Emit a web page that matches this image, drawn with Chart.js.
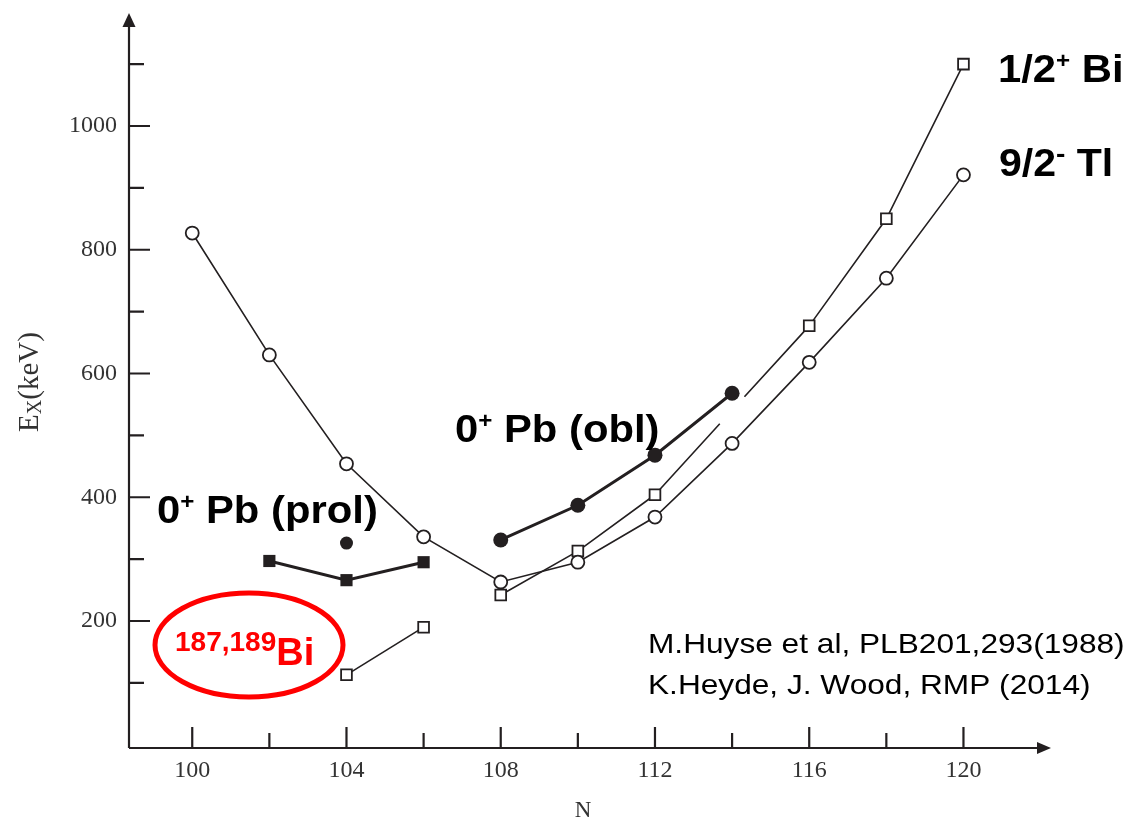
<!DOCTYPE html>
<html>
<head>
<meta charset="utf-8">
<script src="https://cdn.jsdelivr.net/npm/chart.js@4.4.1/dist/chart.umd.min.js"></script>
<style>
    html, body { margin: 0; padding: 0; background: #fff; }
    #wrap { width: 1131px; height: 822px; position: relative; }
</style>
</head>
<body>
<div id="wrap"><canvas id="levels"></canvas></div>
<script>
// Data (N, excitation energy in keV)
const nTl = [100, 102, 104, 106, 108, 110, 112, 114, 116, 118, 120];
const eTl = [827, 630, 454, 336, 263, 295, 368, 487, 618, 754, 921];

const nBi = [108, 110, 112, 116, 118, 120];
const eBi = [242, 313, 404, 677, 850, 1100];

const nBiLight = [104, 106];
const eBiLight = [113, 190];

const nObl = [108, 110, 112, 114];
const eObl = [331, 387, 468, 568];

const nProl = [102, 104, 106];
const eProl = [297, 266, 295];

const nProlExtra = [104];
const eProlExtra = [326];

// tick positions and which of them carry a label
const xTicks = [100, 102, 104, 106, 108, 110, 112, 114, 116, 118, 120];
const xLabelTicks = [100, 104, 108, 112, 116, 120];
const yTicks = [100, 200, 300, 400, 500, 600, 700, 800, 900, 1000, 1100];
const yLabelTicks = [200, 400, 600, 800, 1000];

const INK = '#231f20';

function toPoints(xs, ys) {
    return xs.map((x, i) => ({ x: x, y: ys[i] }));
}

// Draw a run of text pieces (for superscripts), optionally stretched horizontally
function drawRuns(ctx, x, y, runs, sx) {
    ctx.save();
    ctx.translate(x, y);
    ctx.scale(sx || 1, 1);
    ctx.textBaseline = 'alphabetic';
    ctx.textAlign = 'left';
    let cx = 0;
    runs.forEach(r => {
        ctx.font = r.font;
        ctx.fillStyle = r.color || '#000';
        ctx.fillText(r.text, cx, r.dy || 0);
        cx += ctx.measureText(r.text).width;
    });
    ctx.restore();
}

// Axes with arrows and inward tick marks
const axesPlugin = {
    id: 'axesPlugin',
    beforeDatasetsDraw(chart) {
        const ctx = chart.ctx;
        const area = chart.chartArea;
        const xs = chart.scales.x;
        const ys = chart.scales.y;
        ctx.save();
        ctx.strokeStyle = INK;
        ctx.fillStyle = INK;
        ctx.lineWidth = 2.2;

        ctx.beginPath();
        ctx.moveTo(area.left, area.bottom);
        ctx.lineTo(area.left, area.top + 10);
        ctx.moveTo(area.left, area.bottom);
        ctx.lineTo(area.right - 10, area.bottom);
        ctx.stroke();

        // arrow heads
        ctx.beginPath();
        ctx.moveTo(area.left, area.top);
        ctx.lineTo(area.left - 6.5, area.top + 14);
        ctx.lineTo(area.left + 6.5, area.top + 14);
        ctx.closePath();
        ctx.fill();
        ctx.beginPath();
        ctx.moveTo(area.right, area.bottom);
        ctx.lineTo(area.right - 14, area.bottom - 6);
        ctx.lineTo(area.right - 14, area.bottom + 6);
        ctx.closePath();
        ctx.fill();

        ctx.beginPath();
        xs.ticks.forEach(t => {
            const px = xs.getPixelForValue(t.value);
            const len = xLabelTicks.includes(t.value) ? 21 : 15;
            ctx.moveTo(px, area.bottom);
            ctx.lineTo(px, area.bottom - len);
        });
        ys.ticks.forEach(t => {
            const py = ys.getPixelForValue(t.value);
            const len = yLabelTicks.includes(t.value) ? 21 : 15;
            ctx.moveTo(area.left, py);
            ctx.lineTo(area.left + len, py);
        });
        ctx.stroke();
        ctx.restore();
    }
};

// Axis titles and the text annotations
const labelsPlugin = {
    id: 'labelsPlugin',
    afterDraw(chart) {
        const ctx = chart.ctx;
        const serif = '"Liberation Serif", "Times New Roman", serif';
        const sans = '"Liberation Sans", Arial, sans-serif';

        // y title, rotated, with subscript
        ctx.save();
        ctx.translate(30, 382);
        ctx.rotate(-Math.PI / 2);
        ctx.fillStyle = '#333';
        ctx.textBaseline = 'middle';
        const parts = [
            { text: 'E', font: '29px ' + serif, dy: 0 },
            { text: 'X', font: '20px ' + serif, dy: 6 },
            { text: '(keV)', font: '29px ' + serif, dy: 0 }
        ];
        let total = 0;
        parts.forEach(p => { ctx.font = p.font; total += ctx.measureText(p.text).width; });
        let cx = -total / 2;
        parts.forEach(p => {
            ctx.font = p.font;
            ctx.fillText(p.text, cx, p.dy);
            cx += ctx.measureText(p.text).width;
        });
        ctx.restore();

        // x title
        ctx.save();
        ctx.fillStyle = '#333';
        ctx.font = '23px ' + serif;
        ctx.textAlign = 'center';
        ctx.textBaseline = 'middle';
        ctx.fillText('N', 583, 811);
        ctx.restore();

        const big = 'bold 38px ' + sans;
        const sup = 'bold 22px ' + sans;
        drawRuns(ctx, 998, 82, [
            { text: '1/2', font: big },
            { text: '+', font: sup, dy: -14 },
            { text: ' Bi', font: big }
        ], 1.1);
        drawRuns(ctx, 999, 176, [
            { text: '9/2', font: big },
            { text: '-', font: 'bold 26px ' + sans, dy: -14 },
            { text: ' Tl', font: big }
        ], 1.08);
        drawRuns(ctx, 455, 442, [
            { text: '0', font: big },
            { text: '+', font: sup, dy: -14 },
            { text: ' Pb (obl)', font: big }
        ], 1.1);
        drawRuns(ctx, 157, 523, [
            { text: '0', font: big },
            { text: '+', font: sup, dy: -14 },
            { text: ' Pb (prol)', font: big }
        ], 1.1);

        // red highlight
        ctx.save();
        ctx.strokeStyle = '#ff0000';
        ctx.lineWidth = 5;
        ctx.beginPath();
        ctx.ellipse(249, 645, 94, 52, 0, 0, Math.PI * 2);
        ctx.stroke();
        ctx.restore();
        drawRuns(ctx, 175, 651, [
            { text: '187,189', font: 'bold 28px ' + sans, color: '#ff0000' },
            { text: 'Bi', font: 'bold 38px ' + sans, color: '#ff0000', dy: 14 }
        ], 1.0);

        drawRuns(ctx, 648, 653, [
            { text: 'M.Huyse et al, PLB201,293(1988)', font: '28px ' + sans }
        ], 1.13);
        drawRuns(ctx, 648, 694, [
            { text: 'K.Heyde, J. Wood, RMP (2014)', font: '28px ' + sans }
        ], 1.13);
    }
};

function thinLine(data, style, radius) {
    return {
        data: data,
        borderColor: INK,
        borderWidth: 1.6,
        pointStyle: style,
        pointRadius: radius,
        pointBorderWidth: 1.8,
        pointBackgroundColor: '#fff',
        pointBorderColor: INK,
        tension: 0,
        fill: false,
        clip: false
    };
}

function thickLine(data, style, radius) {
    return {
        data: data,
        borderColor: INK,
        borderWidth: 3,
        pointStyle: style,
        pointRadius: radius,
        pointBorderWidth: 0,
        pointBackgroundColor: INK,
        pointBorderColor: INK,
        tension: 0,
        fill: false,
        clip: false
    };
}

const biMain = thinLine(toPoints(nBi, eBi), 'rect', 7.6);
// the Bi line is broken where the obl curve ends (between N=112 and 116)
biMain.segment = {
    borderDash: seg => {
        if (seg.p0.parsed.x !== 112) return undefined;
        const len = Math.hypot(seg.p1.x - seg.p0.x, seg.p1.y - seg.p0.y);
        return [0.42 * len, 0.16 * len, len];
    }
};

const prolExtra = thickLine(toPoints(nProlExtra, eProlExtra), 'circle', 6.5);
prolExtra.showLine = false;

// keep the plot frame where the axes sit in the figure
function noEdgePadding(scale) {
    scale.paddingTop = 0;
    scale.paddingBottom = 0;
    scale.paddingLeft = 0;
    scale.paddingRight = 0;
}

const ctx = document.getElementById('levels').getContext('2d');
new Chart(ctx, {
    type: 'line',
    data: {
        datasets: [
            thickLine(toPoints(nObl, eObl), 'circle', 7.5),
            thickLine(toPoints(nProl, eProl), 'rect', 8.6),
            prolExtra,
            thinLine(toPoints(nTl, eTl), 'circle', 6.5),
            biMain,
            thinLine(toPoints(nBiLight, eBiLight), 'rect', 7.6)
        ]
    },
    options: {
        responsive: true,
        maintainAspectRatio: false,
        animation: false,
        events: [],
        layout: { padding: { top: 13, right: 80, left: 0, bottom: 0 } },
        plugins: {
            legend: { display: false },
            tooltip: { enabled: false }
        },
        scales: {
            x: {
                type: 'linear',
                bounds: 'data',
                min: 98.36,
                max: 122.27,
                grid: { display: false, drawTicks: false },
                border: { display: false },
                afterFit: scale => { scale.height = 74; noEdgePadding(scale); },
                afterBuildTicks: scale => { scale.ticks = xTicks.map(v => ({ value: v })); },
                ticks: {
                    autoSkip: false,
                    maxRotation: 0,
                    padding: 8,
                    color: '#333',
                    font: { family: '"Liberation Serif", "Times New Roman", serif', size: 24 },
                    callback: v => xLabelTicks.includes(v) ? String(v) : ''
                }
            },
            y: {
                type: 'linear',
                bounds: 'data',
                min: -5.25,
                max: 1182.6,
                grid: { display: false, drawTicks: false },
                border: { display: false },
                afterFit: scale => { scale.width = 129; noEdgePadding(scale); },
                afterBuildTicks: scale => { scale.ticks = yTicks.map(v => ({ value: v })); },
                ticks: {
                    autoSkip: false,
                    padding: 12,
                    color: '#333',
                    font: { family: '"Liberation Serif", "Times New Roman", serif', size: 24 },
                    callback: v => yLabelTicks.includes(v) ? String(v) : ''
                }
            }
        }
    },
    plugins: [axesPlugin, labelsPlugin]
});
</script>
</body>
</html>
